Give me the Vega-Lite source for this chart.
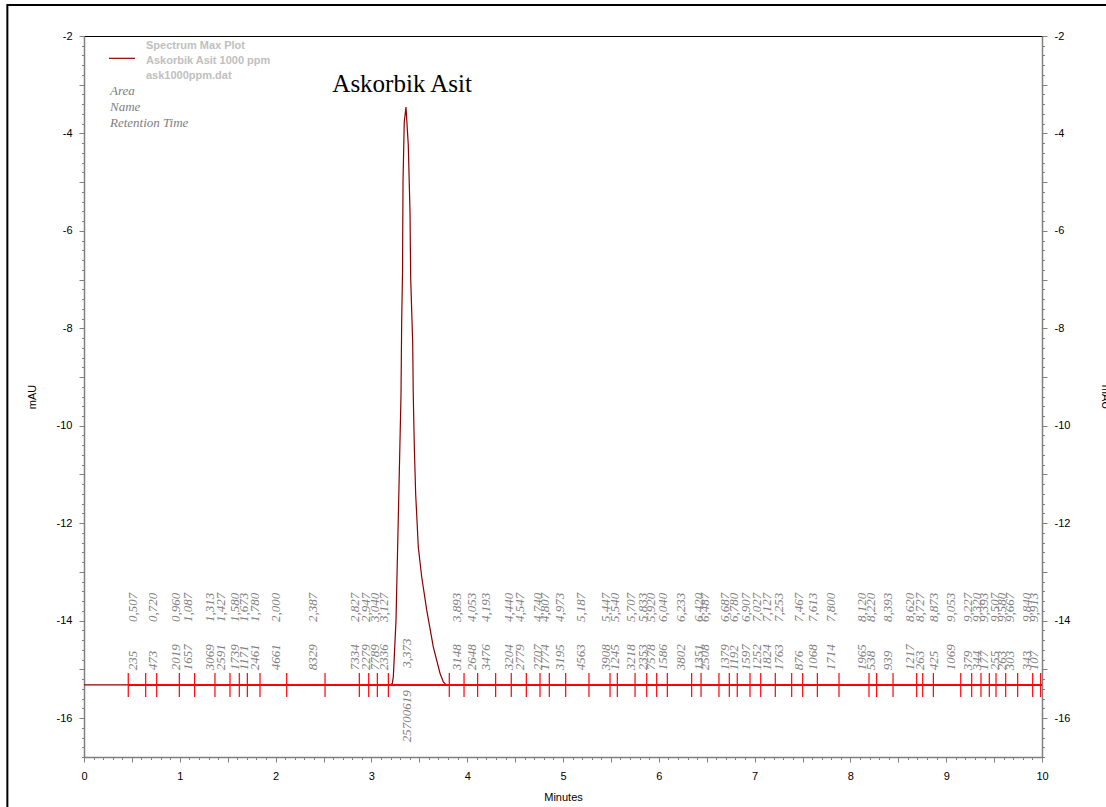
{
  "$schema": "https://vega.github.io/schema/vega-lite/v6.json",
  "width": 958,
  "height": 721,
  "autosize": "none",
  "padding": {"left": 84, "top": 36, "right": 64, "bottom": 50},
  "background": "#ffffff",
  "config": {
    "view": {"stroke": "#000000", "strokeWidth": 1},
    "locale": {"number": {"decimal": ",", "thousands": ".", "grouping": [3], "currency": ["", ""], "minus": "-"}},
    "axis": {
      "labelFont": "Liberation Sans",
      "labelFontSize": 11,
      "labelColor": "#000000",
      "titleFont": "Liberation Sans",
      "titleFontSize": 11,
      "titleFontWeight": "normal",
      "titleColor": "#000000",
      "domainColor": "#808080",
      "domainWidth": 1.5,
      "tickColor": "#808080",
      "tickWidth": 1,
      "grid": false,
      "labelFlush": false,
      "labelOverlap": false,
      "labelBound": false
    }
  },
  "datasets": {
    "signal": [
      {"x": 0, "y": -15.32},
      {"x": 3.2, "y": -15.32},
      {"x": 3.218, "y": -15.29},
      {"x": 3.229, "y": -15.15},
      {"x": 3.257, "y": -13.99},
      {"x": 3.281, "y": -11.87},
      {"x": 3.309, "y": -9.37},
      {"x": 3.316, "y": -7.87},
      {"x": 3.325, "y": -6.84},
      {"x": 3.33, "y": -4.99},
      {"x": 3.343, "y": -3.76},
      {"x": 3.361, "y": -3.46},
      {"x": 3.385, "y": -4.24},
      {"x": 3.403, "y": -5.61},
      {"x": 3.41, "y": -6.97},
      {"x": 3.421, "y": -7.66},
      {"x": 3.431, "y": -8.3},
      {"x": 3.437, "y": -9.37},
      {"x": 3.448, "y": -10.43},
      {"x": 3.462, "y": -11.4},
      {"x": 3.49, "y": -12.5},
      {"x": 3.525, "y": -13.1},
      {"x": 3.577, "y": -13.78},
      {"x": 3.646, "y": -14.54},
      {"x": 3.716, "y": -15.08},
      {"x": 3.751, "y": -15.26},
      {"x": 3.78, "y": -15.32},
      {"x": 10, "y": -15.32}
    ],
    "peaks": [
      {"rt": 0.507, "area": 235},
      {"rt": 0.72, "area": 473},
      {"rt": 0.96, "area": 2019},
      {"rt": 1.087, "area": 1657},
      {"rt": 1.313, "area": 3069},
      {"rt": 1.427, "area": 2591},
      {"rt": 1.58, "area": 1739},
      {"rt": 1.673, "area": 1171},
      {"rt": 1.78, "area": 2461},
      {"rt": 2.0, "area": 4661},
      {"rt": 2.387, "area": 8329},
      {"rt": 2.827, "area": 7334},
      {"rt": 2.947, "area": 2279},
      {"rt": 3.04, "area": 7789},
      {"rt": 3.127, "area": 2336},
      {"rt": 3.373, "area": 25700619, "name": "Askorbik Asit"},
      {"rt": 3.893, "area": 3148},
      {"rt": 4.053, "area": 2648},
      {"rt": 4.193, "area": 3476},
      {"rt": 4.44, "area": 3204},
      {"rt": 4.547, "area": 2779},
      {"rt": 4.74, "area": 2707},
      {"rt": 4.807, "area": 1774},
      {"rt": 4.973, "area": 3195},
      {"rt": 5.187, "area": 4563},
      {"rt": 5.447, "area": 3908},
      {"rt": 5.54, "area": 1245},
      {"rt": 5.707, "area": 3218},
      {"rt": 5.833, "area": 2353},
      {"rt": 5.92, "area": 7578},
      {"rt": 6.04, "area": 1586},
      {"rt": 6.233, "area": 3802},
      {"rt": 6.42, "area": 1351},
      {"rt": 6.487, "area": 2508},
      {"rt": 6.687, "area": 1379},
      {"rt": 6.78, "area": 1192},
      {"rt": 6.907, "area": 1597},
      {"rt": 7.027, "area": 1252},
      {"rt": 7.127, "area": 1824},
      {"rt": 7.253, "area": 1763},
      {"rt": 7.467, "area": 876},
      {"rt": 7.613, "area": 1068},
      {"rt": 7.8, "area": 1714},
      {"rt": 8.12, "area": 1965},
      {"rt": 8.22, "area": 538},
      {"rt": 8.393, "area": 939},
      {"rt": 8.62, "area": 1217},
      {"rt": 8.727, "area": 263},
      {"rt": 8.873, "area": 425},
      {"rt": 9.053, "area": 1069},
      {"rt": 9.227, "area": 379},
      {"rt": 9.32, "area": 344},
      {"rt": 9.393, "area": 177},
      {"rt": 9.507, "area": 255},
      {"rt": 9.58, "area": 263},
      {"rt": 9.667, "area": 303},
      {"rt": 9.84, "area": 343},
      {"rt": 9.913, "area": 107}
    ],
    "ticks": [
      {"t": 0.462}, {"t": 0.644}, {"t": 0.759}, {"t": 0.995}, {"t": 1.155}, {"t": 1.367}, {"t": 1.524}, {"t": 1.621}, {"t": 1.705}, {"t": 1.837}, {"t": 2.116}, {"t": 2.516}, {"t": 2.874}, {"t": 2.972}, {"t": 3.062}, {"t": 3.177},
      {"t": 3.813}, {"t": 3.967}, {"t": 4.109}, {"t": 4.297}, {"t": 4.46}, {"t": 4.617}, {"t": 4.76}, {"t": 4.857}, {"t": 5.028}, {"t": 5.271}, {"t": 5.491}, {"t": 5.567}, {"t": 5.752}, {"t": 5.874}, {"t": 5.978}, {"t": 6.089}, {"t": 6.343}, {"t": 6.441}, {"t": 6.628},
      {"t": 6.736}, {"t": 6.819}, {"t": 6.952}, {"t": 7.064}, {"t": 7.216}, {"t": 7.387}, {"t": 7.502}, {"t": 7.655}, {"t": 7.881}, {"t": 8.194}, {"t": 8.274}, {"t": 8.445}, {"t": 8.692}, {"t": 8.755}, {"t": 8.866}, {"t": 9.152}, {"t": 9.266}, {"t": 9.363}, {"t": 9.45}, {"t": 9.52}, {"t": 9.621}, {"t": 9.746}, {"t": 9.903}, {"t": 9.986}
    ]
  },
  "resolve": {"axis": {"x": "independent", "y": "independent"}},
  "layer": [
    {
      "data": {"name": "signal"},
      "mark": {"type": "line", "color": "#8b0000", "strokeWidth": 1.2},
      "encoding": {
        "x": {
          "field": "x", "type": "quantitative",
          "scale": {"domain": [0, 10], "nice": false, "zero": false},
          "axis": {
            "title": "Minutes",
            "orient": "bottom",
            "values": [0,0.1,0.2,0.3,0.4,0.5,0.6,0.7,0.8,0.9,1,1.1,1.2,1.3,1.4,1.5,1.6,1.7,1.8,1.9,2,2.1,2.2,2.3,2.4,2.5,2.6,2.7,2.8,2.9,3,3.1,3.2,3.3,3.4,3.5,3.6,3.7,3.8,3.9,4,4.1,4.2,4.3,4.4,4.5,4.6,4.7,4.8,4.9,5,5.1,5.2,5.3,5.4,5.5,5.6,5.7,5.8,5.9,6,6.1,6.2,6.3,6.4,6.5,6.6,6.7,6.8,6.9,7,7.1,7.2,7.3,7.4,7.5,7.6,7.7,7.8,7.9,8,8.1,8.2,8.3,8.4,8.5,8.6,8.7,8.8,8.9,9,9.1,9.2,9.3,9.4,9.5,9.6,9.7,9.8,9.9,10],
            "labelExpr": "abs(datum.value - round(datum.value)) < 0.001 ? format(datum.value, 'd') : ''",
            "tickSize": {"condition": {"test": "abs(datum.value * 2 - round(datum.value * 2)) < 0.001", "value": 5}, "value": 2.5},
            "labelPadding": 8,
            "titlePadding": 10
          }
        },
        "y": {
          "field": "y", "type": "quantitative",
          "scale": {"domain": [-16.8, -2], "nice": false, "zero": false},
          "axis": {
            "title": "mAU",
            "orient": "left",
            "values": [-16.8,-16.6,-16.4,-16.2,-16,-15.8,-15.6,-15.4,-15.2,-15,-14.8,-14.6,-14.4,-14.2,-14,-13.8,-13.6,-13.4,-13.2,-13,-12.8,-12.6,-12.4,-12.2,-12,-11.8,-11.6,-11.4,-11.2,-11,-10.8,-10.6,-10.4,-10.2,-10,-9.8,-9.6,-9.4,-9.2,-9,-8.8,-8.6,-8.4,-8.2,-8,-7.8,-7.6,-7.4,-7.2,-7,-6.8,-6.6,-6.4,-6.2,-6,-5.8,-5.6,-5.4,-5.2,-5,-4.8,-4.6,-4.4,-4.2,-4,-3.8,-3.6,-3.4,-3.2,-3,-2.8,-2.6,-2.4,-2.2,-2],
            "labelExpr": "abs(datum.value / 2 - round(datum.value / 2)) < 0.001 ? format(datum.value, 'd') : ''",
            "tickSize": {"condition": {"test": "abs(datum.value - round(datum.value)) < 0.001", "value": 5}, "value": 2.5},
            "labelPadding": 7,
            "titlePadding": 19
          }
        }
      }
    },
    {
      "data": {"values": [{}]},
      "mark": {"type": "rule", "color": "#ff0000", "strokeWidth": 2},
      "encoding": {
        "x": {"datum": 0.462, "type": "quantitative", "scale": {"domain": [0, 10], "nice": false, "zero": false}, "axis": null},
        "x2": {"datum": 10},
        "y": {
          "datum": -15.32, "type": "quantitative",
          "scale": {"domain": [-16.8, -2], "nice": false, "zero": false},
          "axis": {
            "title": "mAU",
            "orient": "right",
            "values": [-16.8,-16.6,-16.4,-16.2,-16,-15.8,-15.6,-15.4,-15.2,-15,-14.8,-14.6,-14.4,-14.2,-14,-13.8,-13.6,-13.4,-13.2,-13,-12.8,-12.6,-12.4,-12.2,-12,-11.8,-11.6,-11.4,-11.2,-11,-10.8,-10.6,-10.4,-10.2,-10,-9.8,-9.6,-9.4,-9.2,-9,-8.8,-8.6,-8.4,-8.2,-8,-7.8,-7.6,-7.4,-7.2,-7,-6.8,-6.6,-6.4,-6.2,-6,-5.8,-5.6,-5.4,-5.2,-5,-4.8,-4.6,-4.4,-4.2,-4,-3.8,-3.6,-3.4,-3.2,-3,-2.8,-2.6,-2.4,-2.2,-2],
            "labelExpr": "abs(datum.value / 2 - round(datum.value / 2)) < 0.001 ? format(datum.value, 'd') : ''",
            "tickSize": {"condition": {"test": "abs(datum.value - round(datum.value)) < 0.001", "value": 5}, "value": 2.5},
            "labelPadding": 7,
            "titlePadding": 30
          }
        }
      }
    },
    {
      "data": {"name": "ticks"},
      "mark": {"type": "rule", "color": "#ff0000", "strokeWidth": 1.2},
      "encoding": {
        "x": {"field": "t", "type": "quantitative", "scale": {"domain": [0, 10], "nice": false, "zero": false}, "axis": null},
        "y": {"datum": -15.074, "type": "quantitative", "scale": {"domain": [-16.8, -2], "nice": false, "zero": false}, "axis": null},
        "y2": {"datum": -15.566}
      }
    },
    {
      "data": {"name": "peaks"},
      "transform": [{"filter": "datum.area < 1000000"}],
      "mark": {"type": "text", "angle": 270, "align": "left", "baseline": "middle", "font": "Liberation Serif", "fontStyle": "italic", "fontSize": 13, "color": "#808080"},
      "encoding": {
        "x": {"field": "rt", "type": "quantitative", "scale": {"domain": [0, 10], "nice": false, "zero": false}, "axis": null},
        "y": {"datum": -14.03, "type": "quantitative", "scale": {"domain": [-16.8, -2], "nice": false, "zero": false}, "axis": null},
        "text": {"field": "rt", "type": "quantitative", "format": ".3f"}
      }
    },
    {
      "data": {"name": "peaks"},
      "transform": [{"filter": "datum.area < 1000000"}],
      "mark": {"type": "text", "angle": 270, "align": "left", "baseline": "middle", "font": "Liberation Serif", "fontStyle": "italic", "fontSize": 13, "color": "#808080"},
      "encoding": {
        "x": {"field": "rt", "type": "quantitative", "scale": {"domain": [0, 10], "nice": false, "zero": false}, "axis": null},
        "y": {"datum": -15.02, "type": "quantitative", "scale": {"domain": [-16.8, -2], "nice": false, "zero": false}, "axis": null},
        "text": {"field": "area", "type": "quantitative", "format": "d"}
      }
    },
    {
      "data": {"name": "peaks"},
      "transform": [{"filter": "datum.area >= 1000000"}],
      "mark": {"type": "text", "angle": 270, "align": "left", "baseline": "middle", "font": "Liberation Serif", "fontStyle": "italic", "fontSize": 13, "color": "#808080"},
      "encoding": {
        "x": {"field": "rt", "type": "quantitative", "scale": {"domain": [0, 10], "nice": false, "zero": false}, "axis": null},
        "y": {"datum": -14.97, "type": "quantitative", "scale": {"domain": [-16.8, -2], "nice": false, "zero": false}, "axis": null},
        "text": {"field": "rt", "type": "quantitative", "format": ".3f"}
      }
    },
    {
      "data": {"name": "peaks"},
      "transform": [{"filter": "datum.area >= 1000000"}],
      "mark": {"type": "text", "angle": 270, "align": "right", "baseline": "middle", "font": "Liberation Serif", "fontStyle": "italic", "fontSize": 13, "color": "#808080"},
      "encoding": {
        "x": {"field": "rt", "type": "quantitative", "scale": {"domain": [0, 10], "nice": false, "zero": false}, "axis": null},
        "y": {"datum": -15.43, "type": "quantitative", "scale": {"domain": [-16.8, -2], "nice": false, "zero": false}, "axis": null},
        "text": {"field": "area", "type": "quantitative", "format": "d"}
      }
    },
    {
      "data": {"name": "peaks"},
      "transform": [{"filter": "datum.name"}],
      "mark": {"type": "text", "align": "center", "baseline": "alphabetic", "font": "Liberation Serif", "fontSize": 25, "color": "#000000", "dx": -5},
      "encoding": {
        "x": {"field": "rt", "type": "quantitative", "scale": {"domain": [0, 10], "nice": false, "zero": false}, "axis": null},
        "y": {"datum": -3.143, "type": "quantitative", "scale": {"domain": [-16.8, -2], "nice": false, "zero": false}, "axis": null},
        "text": {"field": "name", "type": "nominal"}
      }
    },
    {
      "data": {"values": [{}]},
      "mark": {"type": "rule", "color": "#8b0000", "strokeWidth": 1.2},
      "encoding": {
        "x": {"datum": 0.261, "type": "quantitative", "scale": {"domain": [0, 10], "nice": false, "zero": false}, "axis": null},
        "x2": {"datum": 0.532},
        "y": {"datum": -2.458, "type": "quantitative", "scale": {"domain": [-16.8, -2], "nice": false, "zero": false}, "axis": null}
      }
    },
    {
      "data": {"values": [{}]},
      "mark": {"type": "text", "align": "left", "baseline": "top", "font": "Liberation Sans", "fontWeight": "bold", "fontSize": 11, "color": "#c0c0c0", "lineHeight": 15},
      "encoding": {
        "x": {"datum": 0.647, "type": "quantitative", "scale": {"domain": [0, 10], "nice": false, "zero": false}, "axis": null},
        "y": {"datum": -2.086, "type": "quantitative", "scale": {"domain": [-16.8, -2], "nice": false, "zero": false}, "axis": null},
        "text": {"value": ["Spectrum Max Plot", "Askorbik Asit 1000 ppm", "ask1000ppm.dat"]}
      }
    },
    {
      "data": {"values": [{}]},
      "mark": {"type": "text", "align": "left", "baseline": "top", "font": "Liberation Serif", "fontStyle": "italic", "fontSize": 13, "color": "#808080", "lineHeight": 16},
      "encoding": {
        "x": {"datum": 0.271, "type": "quantitative", "scale": {"domain": [0, 10], "nice": false, "zero": false}, "axis": null},
        "y": {"datum": -3.012, "type": "quantitative", "scale": {"domain": [-16.8, -2], "nice": false, "zero": false}, "axis": null},
        "text": {"value": ["Area", "Name", "Retention Time"]}
      }
    },
    {
      "data": {"values": [{}]},
      "mark": {"type": "rect", "fillOpacity": 0, "fill": "#ffffff", "stroke": "#000000", "strokeWidth": 2},
      "encoding": {
        "x": {"datum": -0.8, "type": "quantitative", "scale": {"domain": [0, 10], "nice": false, "zero": false}, "axis": null},
        "x2": {"datum": 11},
        "y": {"datum": -1.364, "type": "quantitative", "scale": {"domain": [-16.8, -2], "nice": false, "zero": false}, "axis": null},
        "y2": {"datum": -18}
      }
    }
  ]
}
